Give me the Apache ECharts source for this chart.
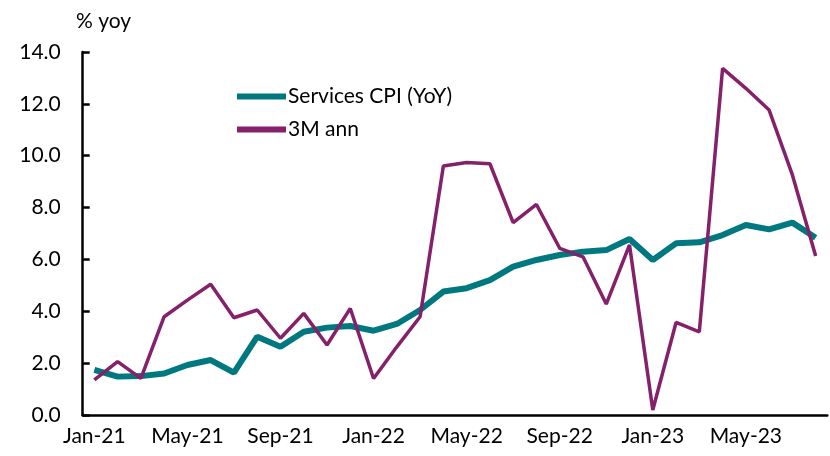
<!DOCTYPE html>
<html>
<head>
<meta charset="utf-8">
<script src="https://cdn.jsdelivr.net/npm/echarts@6/dist/echarts.min.js"></script>
<style>
  html, body { margin: 0; padding: 0; background: #fff; }
  #chart { width: 830px; height: 456px; }
</style>
</head>
<body>
<div id="chart"></div>
<script>
// months Jan-21 .. Aug-23
const months = [
  'Jan-21','Feb-21','Mar-21','Apr-21','May-21','Jun-21','Jul-21','Aug-21',
  'Sep-21','Oct-21','Nov-21','Dec-21','Jan-22','Feb-22','Mar-22','Apr-22',
  'May-22','Jun-22','Jul-22','Aug-22','Sep-22','Oct-22','Nov-22','Dec-22',
  'Jan-23','Feb-23','Mar-23','Apr-23','May-23','Jun-23','Jul-23','Aug-23'
];
const servicesYoy = [
  1.74, 1.48, 1.5, 1.6, 1.93, 2.12, 1.63, 3.02,
  2.63, 3.21, 3.37, 3.43, 3.25, 3.51, 4.05, 4.76,
  4.89, 5.2, 5.72, 5.98, 6.17, 6.3, 6.36, 6.79,
  5.98, 6.62, 6.66, 6.94, 7.33, 7.16, 7.42, 6.84
];
const ann3m = [
  1.35, 2.06, 1.41, 3.79, 4.43, 5.04, 3.75, 4.05,
  2.96, 3.92, 2.7, 4.11, 1.41, 2.63, 3.79, 9.6,
  9.74, 9.69, 7.42, 8.12, 6.43, 6.1, 4.28, 6.56,
  0.19, 3.57, 3.21, 13.37, 12.6, 11.76, 9.26, 6.13
];

const font = 'Lato, "Open Sans", sans-serif';
const teal = '#00787F';
const plum = '#85206A';

const chart = echarts.init(document.getElementById('chart'));
chart.setOption({
  animation: false,
  backgroundColor: '#fff',
  textStyle: { fontFamily: font },
  title: {
    text: '% yoy',
    left: 71, top: 6,
    textStyle: { fontFamily: font, fontSize: 21, fontWeight: 'normal', color: '#000' }
  },
  legend: {
    orient: 'vertical',
    left: 232, top: 81,
    itemWidth: 49, itemHeight: 6, itemGap: 12,
    icon: 'rect',
    textStyle: { fontFamily: font, fontSize: 21, color: '#000', padding: [0, 0, 0, -3] },
    data: [
      { name: 'Services CPI (YoY)', itemStyle: { color: teal } },
      { name: '3M ann', itemStyle: { color: plum } }
    ]
  },
  grid: { left: 82.7, right: 2.7, top: 52, bottom: 41 },
  xAxis: {
    type: 'category',
    data: months,
    boundaryGap: true,
    axisLine: { lineStyle: { color: '#000', width: 2.5 } },
    axisTick: { interval: 3, length: 7, lineStyle: { color: '#000', width: 2.5 } },
    axisLabel: { interval: 3, color: '#000', fontSize: 21, fontFamily: font, margin: 11 }
  },
  yAxis: {
    type: 'value',
    min: 0, max: 14, interval: 2,
    splitLine: { show: false },
    axisLine: { show: true, lineStyle: { color: '#000', width: 2.5 } },
    axisTick: { show: true, inside: true, length: 7, lineStyle: { color: '#000', width: 2.5 } },
    axisLabel: {
      color: '#000', fontSize: 21, fontFamily: font, margin: 22,
      formatter: v => v.toFixed(1)
    }
  },
  series: [
    {
      name: 'Services CPI (YoY)', type: 'line', data: servicesYoy,
      symbol: 'none', z: 2,
      lineStyle: { color: teal, width: 6 },
      itemStyle: { color: teal }
    },
    {
      name: '3M ann', type: 'line', data: ann3m,
      symbol: 'none', z: 3,
      lineStyle: { color: plum, width: 3.5 },
      itemStyle: { color: plum }
    }
  ]
});
</script>
</body>
</html>
